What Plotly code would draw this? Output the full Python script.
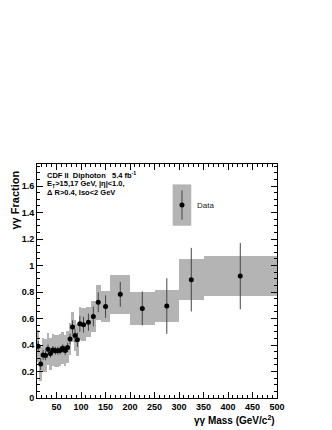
import plotly.graph_objects as go

# ---- data ----
mass_centers = [12.5, 17.5, 22.5, 27.5, 32.5, 37.5, 42.5, 47.5, 52.5, 57.5, 62.5, 67.5,
                72.5, 77.5, 82.5, 87.5, 92.5, 97.5, 105, 115, 125, 135, 150, 180,
                225, 275, 325, 425]
bin_widths = [5] * 18 + [10, 10, 10, 10, 20, 40, 50, 50, 50, 150]
fraction = [0.39, 0.257, 0.325, 0.32, 0.368, 0.335, 0.362, 0.357, 0.357, 0.36, 0.375, 0.358,
            0.382, 0.445, 0.535, 0.472, 0.44, 0.56, 0.553, 0.572, 0.615, 0.722, 0.69, 0.783,
            0.676, 0.694, 0.893, 0.92]
stat_err = [0.04, 0.045, 0.04, 0.035, 0.035, 0.03, 0.03, 0.03, 0.03, 0.03, 0.03, 0.035,
            0.035, 0.04, 0.05, 0.05, 0.055, 0.06, 0.06, 0.065, 0.075, 0.075, 0.085, 0.094,
            0.128, 0.21, 0.24, 0.25]
syst_err = [0.12, 0.13, 0.125, 0.125, 0.12, 0.12, 0.12, 0.12, 0.12, 0.12, 0.12, 0.12,
            0.12, 0.12, 0.115, 0.12, 0.12, 0.125, 0.125, 0.115, 0.12, 0.13, 0.12, 0.147,
            0.125, 0.12, 0.155, 0.153]

x_ticks = [50, 100, 150, 200, 250, 300, 350, 400, 450, 500]
y_ticks = [0, 0.2, 0.4, 0.6, 0.8, 1.0, 1.2, 1.4, 1.6]
y_tick_labels = ["0", "0.2", "0.4", "0.6", "0.8", "1", "1.2", "1.4", "1.6"]

box_color = "#b4b4b4"
font_family = "Liberation Sans, Arial, sans-serif"

# page body has an 8px margin; the figure is sized so the plot area lands
# where it does in the reference
W, H = 324, 422
ML, MR, MT, MB = 29, 55, 156, 32
plot_h = H - MT - MB

fig = go.Figure()

# systematic boxes
fig.add_trace(go.Bar(
    x=mass_centers,
    y=[2 * s for s in syst_err],
    base=[f - s for f, s in zip(fraction, syst_err)],
    width=bin_widths,
    marker=dict(color=box_color, line=dict(width=0)),
    showlegend=False,
    hoverinfo="skip",
))

# data points with stat errors
fig.add_trace(go.Scatter(
    x=mass_centers,
    y=fraction,
    mode="markers",
    marker=dict(color="black", size=5),
    error_y=dict(type="data", array=stat_err, color="#444444", thickness=1, width=0),
    showlegend=False,
))

# legend (box + point)
leg_x, leg_y = 306, 1.456
fig.add_shape(type="rect", xref="x", yref="y", x0=287, x1=325, y0=1.30, y1=1.612,
              fillcolor=box_color, line=dict(width=0), layer="below")
fig.add_shape(type="line", xref="x", yref="y", x0=leg_x, x1=leg_x, y0=1.346, y1=1.567,
              line=dict(color="#444444", width=1), layer="below")
fig.add_trace(go.Scatter(x=[leg_x], y=[leg_y], mode="markers",
                         marker=dict(color="black", size=5), showlegend=False,
                         hoverinfo="skip"))
fig.add_annotation(x=332, y=leg_y, xref="x", yref="y", text="Data", showarrow=False,
                   xanchor="left", yanchor="middle",
                   font=dict(family=font_family, size=8, color="#222222"))

# header text (page y positions in the reference)
lines = ["CDF II  Diphoton   5.4 fb<sup>-1</sup>",
         "E<sub>T</sub>>15,17 GeV, |η|<1.0,",
         "Δ R>0.4, Iso<2 GeV"]
page_ys = [175, 184, 192]
for t, yy in zip(lines, page_ys):
    fig.add_annotation(xref="paper", yref="paper", x=0, xshift=8,
                       y=(H - MB + 8 - yy) / plot_h, yanchor="middle", xanchor="left",
                       text="<b>" + t + "</b>", showarrow=False,
                       font=dict(family=font_family, size=7.5, color="black"))

# axis titles
fig.add_annotation(xref="paper", yref="paper", x=0, xshift=-23, y=1, yshift=-5,
                   yanchor="top", xanchor="center", textangle=-90,
                   text="<b>γγ Fraction</b>",
                   showarrow=False, font=dict(family=font_family, size=11, color="black"))
fig.add_annotation(xref="paper", yref="paper", x=1, xanchor="right", y=0, yshift=-22,
                   yanchor="middle", text="<b>γγ Mass (GeV/c<sup>2</sup>)</b>",
                   showarrow=False, font=dict(family=font_family, size=10, color="black"))

axis_common = dict(
    showline=True, linecolor="black", linewidth=1, mirror="ticks",
    ticks="inside", ticklen=6, tickcolor="black", tickwidth=1,
    showgrid=False, zeroline=False,
    tickfont=dict(family=font_family, size=9, color="black", weight="bold"),
)

fig.update_layout(
    width=W, height=H,
    margin=dict(l=ML, r=MR, t=MT, b=MB),
    plot_bgcolor="white", paper_bgcolor="white",
    barmode="overlay", bargap=0,
    xaxis=dict(range=[10, 500], tickvals=x_ticks,
               minor=dict(dtick=10, tick0=0, ticks="inside", ticklen=3, tickcolor="black"),
               **axis_common),
    yaxis=dict(range=[0, 1.766], tickvals=y_ticks, ticktext=y_tick_labels,
               minor=dict(dtick=0.05, tick0=0, ticks="inside", ticklen=3, tickcolor="black"),
               **axis_common),
)

fig.write_html("out.html")
